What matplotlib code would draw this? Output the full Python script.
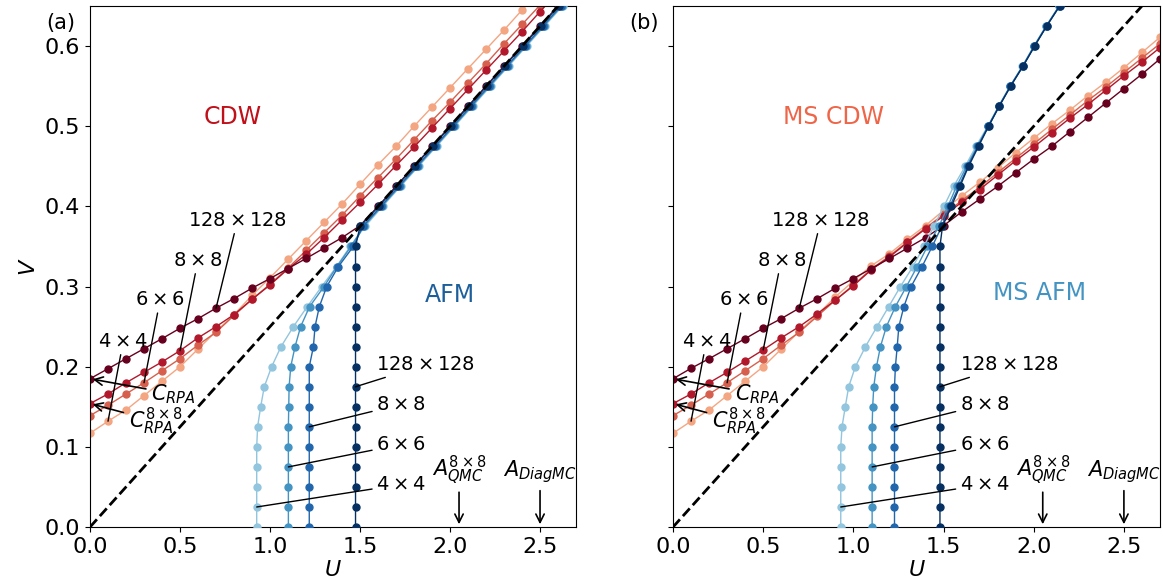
import matplotlib
matplotlib.use('Agg')
import matplotlib.pyplot as plt

# grids
U_red = [0.0,0.1,0.2,0.3,0.4,0.5,0.6,0.7,0.8,0.9,1.0,1.1,1.2,1.3,1.4,1.5,1.6,1.7,1.8,1.9,2.0,2.1,2.2,2.3,2.4,2.5,2.6,2.7]
V_blue = [0.0,0.025,0.05,0.075,0.1,0.125,0.15,0.175,0.2,0.225,0.25,0.275,0.3,0.325,0.35,0.375,
          0.4,0.425,0.45,0.475,0.5,0.525,0.55,0.575,0.6,0.625,0.65,0.675]
sizes = ['4x4','6x6','8x8','128x128']

# panel (a): CDW boundary V(U)
red4_a = [0.117,0.132,0.146,0.164,0.182,0.200,0.222,0.244,0.265,0.289,0.311,0.334,0.357,0.380,0.403,0.4275,0.452,0.475,0.500,0.524,0.548,0.572,0.596,0.620,0.645,0.669,0.693,0.717]
red6_a = [0.139,0.152,0.166,0.180,0.195,0.210,0.227,0.243,0.264,0.284,0.303,0.323,0.345,0.367,0.389,0.413,0.436,0.459,0.483,0.507,0.530,0.554,0.578,0.603,0.627,0.651,0.675,0.699]
red8_a = [0.154,0.166,0.180,0.193,0.206,0.220,0.236,0.250,0.265,0.284,0.302,0.322,0.340,0.361,0.383,0.405,0.4275,0.451,0.474,0.498,0.522,0.546,0.570,0.594,0.618,0.643,0.667,0.691]
red128_a = [0.185,0.1975,0.210,0.2225,0.235,0.248,0.260,0.273,0.285,0.298,0.310,0.3225,0.335,0.348,0.361,0.376,0.400,0.425,0.450,0.475,0.500,0.525,0.550,0.575,0.600,0.625,0.650,0.675]
# panel (a): AFM boundary U(V)
blue4_a = [0.926,0.926,0.926,0.926,0.926,0.931,0.948,0.968,1.009,1.061,1.130,1.207,1.287,1.370,1.445,1.528,
           1.625,1.725,1.825,1.925,2.025,2.125,2.225,2.325,2.425,2.525,2.625,2.725]
blue6_a = [1.102,1.102,1.102,1.102,1.102,1.102,1.104,1.106,1.115,1.139,1.170,1.220,1.300,1.372,1.450,1.520,
           1.620,1.720,1.820,1.920,2.020,2.120,2.220,2.320,2.420,2.520,2.620,2.720]
blue8_a = [1.218,1.218,1.218,1.218,1.218,1.218,1.218,1.218,1.218,1.241,1.250,1.274,1.315,1.380,1.463,1.515,
           1.615,1.715,1.815,1.915,2.015,2.115,2.215,2.315,2.415,2.515,2.615,2.715]
blue128_a = [1.475,1.475,1.475,1.475,1.475,1.475,1.475,1.475,1.475,1.475,1.475,1.475,1.475,1.475,1.475,1.500,
             1.603,1.703,1.803,1.903,2.003,2.103,2.203,2.303,2.403,2.503,2.603,2.703]

# panel (b): MS CDW boundary V(U)
red4_b = [0.117,0.132,0.146,0.164,0.182,0.200,0.222,0.244,0.265,0.287,0.307,0.326,0.341,0.359,0.376,0.395,0.413,0.430,0.448,0.467,0.485,0.503,0.520,0.538,0.555,0.573,0.592,0.611]
red6_b = [0.139,0.152,0.166,0.180,0.195,0.210,0.227,0.243,0.263,0.283,0.302,0.322,0.338,0.356,0.373,0.390,0.407,0.424,0.442,0.460,0.478,0.496,0.514,0.532,0.549,0.567,0.585,0.603]
red8_b = [0.154,0.166,0.180,0.193,0.207,0.221,0.236,0.250,0.266,0.283,0.301,0.321,0.337,0.355,0.372,0.388,0.405,0.421,0.439,0.457,0.474,0.492,0.510,0.527,0.545,0.563,0.580,0.598]
red128_b = [0.185,0.198,0.210,0.2225,0.235,0.248,0.260,0.273,0.285,0.298,0.310,0.3225,0.335,0.348,0.361,0.376,0.393,0.409,0.425,0.442,0.459,0.475,0.493,0.511,0.529,0.547,0.565,0.584]
# panel (b): MS AFM boundary U(V)
blue4_b = [0.930,0.930,0.930,0.930,0.930,0.937,0.955,0.974,1.011,1.067,1.131,1.196,1.261,1.330,1.391,1.446,
           1.502,1.556,1.620,1.680,1.745,1.805,1.868,1.937,2.000,2.068,2.140,2.210]
blue6_b = [1.104,1.104,1.104,1.104,1.104,1.104,1.107,1.113,1.128,1.150,1.183,1.233,1.294,1.354,1.410,1.474,
           1.524,1.572,1.628,1.688,1.748,1.807,1.870,1.939,2.003,2.070,2.142,2.212]
blue8_b = [1.228,1.228,1.228,1.228,1.228,1.228,1.228,1.228,1.233,1.243,1.252,1.280,1.320,1.381,1.437,1.490,
           1.535,1.585,1.635,1.690,1.748,1.808,1.871,1.940,2.004,2.071,2.143,2.213]
blue128_b = [1.480,1.480,1.480,1.480,1.480,1.480,1.480,1.480,1.480,1.480,1.480,1.480,1.480,1.480,1.480,1.494,
             1.543,1.591,1.639,1.694,1.750,1.809,1.872,1.941,2.005,2.072,2.144,2.215]

U_line = [0.0, 2.7]
V_line = [0.0, 0.675]   # V = U/4

A_qmc = 2.05
A_diagmc = 2.5

red_colors = ['#f4a582','#d6604d','#b2182b','#67001f']
blue_colors = ['#92c5de','#4393c3','#2166ac','#053061']

fs_tick = 16
fs_ann = 14
fs_math = 15
fs_phase = 17


def draw_panel(ax, reds, blues, tag, cdw_label, cdw_color, afm_label, afm_color, cdw_xy, afm_xy):
    for v, c in zip(reds, red_colors):
        ax.plot(U_red, v, '-o', color=c, lw=1, ms=5, zorder=2)
    for u, c in zip(blues, blue_colors):
        ax.plot(u, V_blue, '-o', color=c, lw=1, ms=5, zorder=3)
    ax.plot(U_line, V_line, '--', color='k', lw=2, zorder=4)
    ax.set_xlim(0, 2.7)
    ax.set_ylim(0, 0.65)
    ax.set_xticks([0.0, 0.5, 1.0, 1.5, 2.0, 2.5])
    ax.set_yticks([0.0, 0.1, 0.2, 0.3, 0.4, 0.5, 0.6])
    ax.tick_params(labelsize=fs_tick)
    ax.set_xlabel('$U$', fontsize=fs_tick, labelpad=2)
    ax.text(-0.03, 0.967, tag, transform=ax.transAxes, ha='right', va='center', fontsize=fs_math)
    ax.text(cdw_xy[0], cdw_xy[1], cdw_label, color=cdw_color, fontsize=fs_phase, ha='center', va='center')
    ax.text(afm_xy[0], afm_xy[1], afm_label, color=afm_color, fontsize=fs_phase, ha='center', va='center')

    line = dict(arrowstyle='-', color='k', lw=1, shrinkA=1, shrinkB=0)
    # red curve labels
    ax.annotate(r'$128\times128$', xy=(U_red[7], reds[3][7]), xytext=(0.82, 0.383),
                fontsize=fs_ann, ha='center', va='center', arrowprops=line)
    ax.annotate(r'$8\times8$', xy=(U_red[5], reds[2][5]), xytext=(0.60, 0.333),
                fontsize=fs_ann, ha='center', va='center', arrowprops=line)
    ax.annotate(r'$6\times6$', xy=(U_red[3], reds[1][3]), xytext=(0.39, 0.284),
                fontsize=fs_ann, ha='center', va='center', arrowprops=line)
    ax.annotate(r'$4\times4$', xy=(U_red[1], reds[0][1]), xytext=(0.185, 0.232),
                fontsize=fs_ann, ha='center', va='center', arrowprops=line)
    arrow = dict(arrowstyle='->', color='k', lw=1.2)
    ax.annotate(r'$C_{RPA}$', xy=(0.0, reds[3][0]), xytext=(0.465, 0.166),
                fontsize=fs_math, ha='center', va='center', arrowprops=arrow)
    ax.annotate(r'$C_{RPA}^{8\times8}$', xy=(0.0, reds[2][0]), xytext=(0.365, 0.132),
                fontsize=fs_math, ha='center', va='center', arrowprops=arrow)
    # blue curve labels
    ax.annotate(r'$128\times128$', xy=(blues[3][7], V_blue[7]), xytext=(1.59, 0.2025),
                fontsize=fs_ann, ha='left', va='center', arrowprops=line)
    ax.annotate(r'$8\times8$', xy=(blues[2][5], V_blue[5]), xytext=(1.59, 0.153),
                fontsize=fs_ann, ha='left', va='center', arrowprops=line)
    ax.annotate(r'$6\times6$', xy=(blues[1][3], V_blue[3]), xytext=(1.59, 0.103),
                fontsize=fs_ann, ha='left', va='center', arrowprops=line)
    ax.annotate(r'$4\times4$', xy=(blues[0][1], V_blue[1]), xytext=(1.59, 0.053),
                fontsize=fs_ann, ha='left', va='center', arrowprops=line)
    # reference points on U axis
    ax.annotate(r'$A_{QMC}^{8\times8}$', xy=(A_qmc, 0.0), xytext=(A_qmc, 0.071),
                fontsize=fs_math, ha='center', va='center', arrowprops=arrow)
    ax.annotate(r'$A_{DiagMC}$', xy=(A_diagmc, 0.0), xytext=(A_diagmc, 0.069),
                fontsize=fs_math, ha='center', va='center', arrowprops=arrow)


fig = plt.figure(figsize=(11.63, 5.88), dpi=100)
ax1 = fig.add_axes([0.0774, 0.1037, 0.4179, 0.8861])
ax2 = fig.add_axes([0.5787, 0.1037, 0.4187, 0.8861])

draw_panel(ax1, [red4_a, red6_a, red8_a, red128_a], [blue4_a, blue6_a, blue8_a, blue128_a],
           '(a)', 'CDW', '#c0101a', 'AFM', '#1c5f9a', (0.79, 0.512), (2.0, 0.29))
draw_panel(ax2, [red4_b, red6_b, red8_b, red128_b], [blue4_b, blue6_b, blue8_b, blue128_b],
           '(b)', 'MS CDW', '#ee6548', 'MS AFM', '#4393c3', (0.89, 0.512), (2.03, 0.292))
ax1.set_ylabel('$V$', fontsize=fs_tick)
ax2.set_yticklabels([])

fig.savefig('out.png', dpi=100)
